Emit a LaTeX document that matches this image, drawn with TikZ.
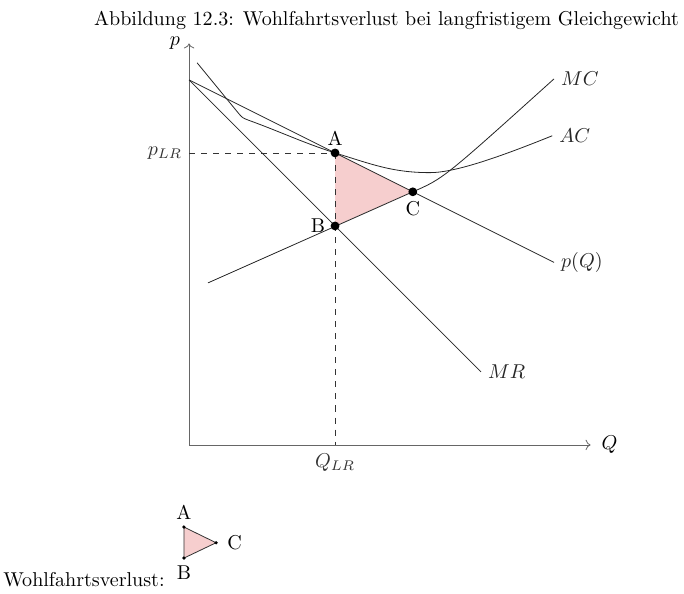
\documentclass[tikz,border=0pt]{standalone}
\usepackage{tikz}
\usetikzlibrary{arrows.meta, positioning, calc}
\definecolor{dwl-pink}{RGB}{246, 206, 206}

\begin{document}
\begin{tikzpicture}[x=0.64cm, y=0.64cm,
    axis/.style={->, black!60},
    curve/.style={black!85},
    guide/.style={dashed, black!80},
    dot/.style={circle, fill=black, inner sep=0pt, minimum size=4.4pt},
    minidot/.style={circle, fill=black, inner sep=0pt, minimum size=1.8pt}
  ]
  \useasboundingbox (-5.18,-4.08) rectangle (13.56,12.19);
  \node (title) at (5.41,11.64) {Abbildung 12.3: Wohlfahrtsverlust bei langfristigem Gleichgewicht};

  % points of the equilibrium
  \coordinate (O) at (0,0);
  \coordinate (A) at (4,8);
  \coordinate (B) at (4,6);
  \coordinate (C) at (6.13,6.935);
  \fill[dwl-pink] (A) -- (B) -- (C) -- cycle;

  % axes
  \draw[axis] (O) -- (0,11) coordinate (ptop);
  \draw[axis] (O) -- (11,0) coordinate (qend);
  \node[left=1pt of ptop] (plbl) {$p$};
  \node[right=2pt of qend] (qlbl) {$Q$};

  % guide lines
  \draw[guide] (0,8) node[left] (pLR) {$p_{LR}$} -- (A);
  \draw[guide] (A) -- (4,0) node[below=1pt] (QLR) {$Q_{LR}$};

  % demand and marginal revenue
  \draw[curve] (0,10) -- (10,5) node[right] (pQ) {$p(Q)$};
  \draw[curve] (0,10) -- (8,2) node[right] (MR) {$MR$};

  % cost curves
  \draw[curve] (0.52,4.44) -- (C) .. controls (6.97,7.30) .. (10,10.03)
    node[right] (MC) {$MC$};
  \draw[curve] (0.22,10.47) -- (1.36,9.08) .. controls (1.465,8.96) .. (1.62,8.90)
    to[out=-20, in=162] (A) to[out=-17, in=180] (6.6,7.46)
    .. controls (7.3,7.46) and (8.56,7.91) .. (9.95,8.47) node[right] (AC) {$AC$};

  \node[dot] (dA) at (A) {};
  \node[dot] (dB) at (B) {};
  \node[dot] (dC) at (C) {};
  \node[above=-2pt of dA] {A};
  \node[left=-1pt of dB] {B};
  \node[below=-1pt of dC] {C};

  % legend
  \coordinate (lA) at (-0.14,-2.25);
  \coordinate (lB) at (-0.14,-3.10);
  \coordinate (lC) at (0.74,-2.68);
  \filldraw[fill=dwl-pink, draw=black!80] (lA) -- (lB) -- (lC) -- cycle;
  \node[minidot] (mA) at (lA) {};
  \node[minidot] (mB) at (lB) {};
  \node[minidot] (mC) at (lC) {};
  \node[above=-1pt of mA] {A};
  \node[below=-1pt of mB] {B};
  \node[right=1pt of mC] {C};
  \node (wlabel) at (-2.88,-3.70) {Wohlfahrtsverlust:};
\end{tikzpicture}
\end{document}
